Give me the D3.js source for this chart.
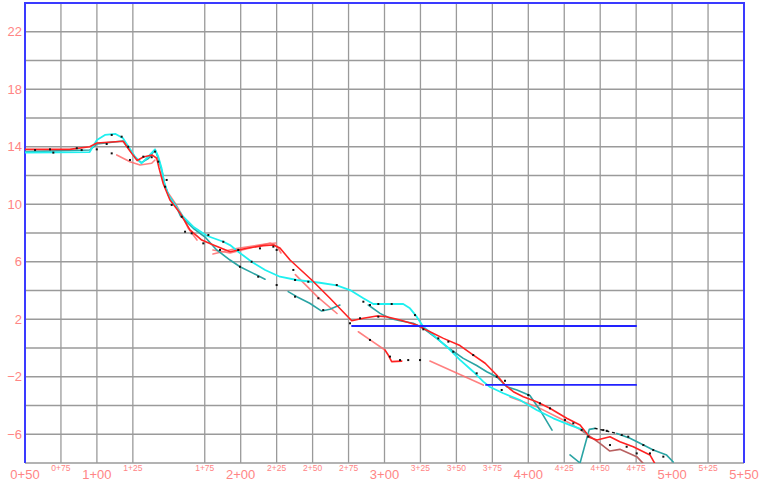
<!DOCTYPE html>
<html>
<head>
<meta charset="utf-8">
<script src="https://cdn.jsdelivr.net/npm/d3@7"></script>
<style>
  body { margin: 0; background: #fff; }
  svg { display: block; }
</style>
</head>
<body>
<div id="vis"></div>
<script>
// stations (ft) and elevations
var stationTicks = d3.range(50, 551, 25).filter(function (v) { return v !== 150; });
var majorStations = [50, 100, 200, 300, 400, 500, 550];
var elevTicks = d3.range(-8, 23, 2);
var elevLabels = [22, 18, 14, 10, 6, 2, -2, -6];

var redMain = [[50,13.82],[81,13.82],[95,14.0],[100,14.26],[118.4,14.38],[121,13.98],[124.2,13.54],[128,13.04],[132.3,13.29],[138.3,13.43],[141.6,13.2],[143.2,12.52],[146.2,11.41],[150.8,10.3],[157.8,9.39],[164.7,8.22],[172.9,7.51],[181,7.17],[192.6,6.7],[204.2,6.94],[215.7,7.12],[222.7,7.17],[227.3,6.96],[234.3,6.12],[249.4,4.73],[262.1,3.46],[277.2,1.9],[285.3,2.07],[294.6,2.23],[301.5,2.18],[310.8,1.95],[322.4,1.6],[331.6,1.13],[341,0.67],[352.5,0.17],[361.8,-0.49],[370,-1.06],[378,-1.88],[383.8,-2.57],[389.6,-3.04],[396.5,-3.39],[405.8,-3.74],[415,-4.19],[426.7,-4.89],[436,-5.36],[442.8,-6.23],[447.8,-6.4],[456.8,-6.17],[463.7,-6.52],[473,-6.87],[484.6,-7.44],[489.5,-8.3]];
var redShort = [[300.3,-0.14],[302.6,-0.49],[305,-0.95],[312,-0.91]];

var cyanLine = [[50,13.6],[95,13.63],[100,14.47],[105.6,14.82],[113,14.89],[118,14.61],[122,14.0],[126.5,13.31],[131,12.85],[135.7,13.31],[140.4,13.82],[142.7,13.31],[145,12.5],[146.7,11.57],[149.7,10.64],[154.3,9.95],[160,9.13],[167,8.44],[176.4,7.81],[188,7.39],[192.6,7.16],[198.3,6.7],[207.6,6.0],[217,5.43],[227.3,4.96],[239,4.73],[255,4.54],[266.8,4.35],[276,4.03],[285.3,3.46],[292.2,3.06],[313,3.06],[317.7,2.76],[322.4,2.18],[327,1.48],[334,0.9],[343.3,0.09],[352.5,-0.83],[361.8,-1.65],[368.7,-2.34],[373.4,-2.71],[382.6,-3.15],[394.2,-3.62],[405.8,-4.31],[417.4,-4.89],[429,-5.36],[438.2,-5.7],[441.5,-6.05]];

var teal1 = [[50,13.66],[95,13.77],[100,14.2],[118,14.4],[122,13.9],[127,13.2],[131,12.9],[136,13.2],[140.5,13.8],[143,13.1],[145.5,12.2],[147,11.4],[150,10.6],[155,9.9],[158,9.2],[167,8.33],[175.2,7.72],[183.3,6.82],[192.6,6.12],[199.5,5.65],[208.8,5.19],[216.9,4.78]];
var teal2 = [[233,3.92],[239,3.57],[248,3.11],[256.3,2.57],[262,2.69],[269,2.99]];
var teal3 = [[288.7,2.99],[296.9,2.41],[303.8,2.06],[310.8,1.9],[320,1.72],[327,1.37],[336.3,0.67],[345.5,-0.07],[354.8,-0.72],[364.1,-1.22],[371.1,-1.65],[378,-2.0],[385,-2.69],[392.1,-2.92],[401.1,-3.31],[408.1,-4.31],[416.5,-5.71]];
var teal4 = [[429,-7.44],[436,-8.0],[439.4,-6.75],[442.4,-5.66],[446.4,-5.59]];
var teal5 = [[461.6,-5.94],[470.7,-6.28],[477.7,-6.63],[486.9,-7.1],[496.2,-7.45],[500.8,-7.93]];
var blackDash = [[446.4,-5.59],[461.6,-5.94]];

var salmon1 = [[113.8,13.43],[123,12.96],[130,12.73],[138.1,12.85],[140.4,13.08]];
var salmon2 = [[149.7,10.76],[154.3,10.09],[159.2,9.25],[163.4,8.35],[169.6,7.51]];
var salmon3 = [[180.7,6.82],[192.6,6.61],[206.5,6.96],[220.4,7.3],[225.2,7.09],[228,6.61]];
var salmon4 = [[180.7,6.54],[196,6.9],[214.8,7.2],[224.5,7.3]];
var salmon5 = [[238,5.1],[254,3.5],[267,2.4]];
var salmon6 = [[281.8,1.13],[290,0.56],[300.3,-0.14]];
var salmon7 = [[331.6,-0.91],[368.7,-2.58]];
var salmon8 = [[387.3,-3.41],[405.8,-4.08],[419.7,-4.78],[429,-5.24],[438.2,-5.82]];
var maroon1 = [[438.2,-5.82],[449.8,-6.63],[456.7,-7.17],[463.7,-7.05],[475.4,-7.56],[481.1,-8.15]];

var blueLevels = [[[277.4,1.53],[475,1.53]], [[370.6,-2.57],[475,-2.57]]];

var shots = [[57,13.77],[67.4,13.82],[69.7,13.59],[86,13.9],[89.4,13.77],[99.9,13.82],[106.8,14.19],[110.3,13.54],[110.3,14.82],[117.2,14.7],[121.8,14.0],[123,13.08],[132.3,13.31],[138.1,13.27],[140.4,13.66],[142.7,12.96],[148.5,11.69],[147.4,11.22],[152,9.95],[159,9.13],[165.9,7.98],[161.3,8.09],[174,7.28],[177.5,7.86],[185.6,6.82],[187.9,7.39],[198.3,6.82],[199.5,5.65],[207.6,6.0],[212.2,4.96],[213.4,6.93],[222.7,7.05],[225,6.82],[225,4.38],[236.6,5.43],[237.8,4.73],[237.8,3.57],[247,4.61],[254,3.46],[257.4,2.64],[266.8,4.38],[276,1.72],[283,2.07],[285.3,3.22],[289.9,2.99],[295.7,2.18],[289.9,0.56],[295.7,3.06],[305,3.06],[303.8,-0.6],[310.8,-0.84],[316.5,-0.84],[324.7,-0.84],[321.2,2.29],[327,1.3],[337.4,0.67],[344.4,0.44],[347.8,-0.26],[361.7,-0.49],[364.1,-1.76],[378,-2.0],[383.8,-2.28],[381.5,-2.92],[400,-3.27],[408.1,-3.85],[415.1,-4.2],[425.5,-5.01],[431.3,-5.24],[437.1,-5.71],[441.7,-6.17],[452.2,-5.71],[454.5,-5.76],[465,-6.05],[469.5,-6.17],[480,-6.75],[486.9,-7.1],[493.9,-7.56],[456.8,-6.75],[468.4,-6.87],[475.4,-7.33],[484.6,-7.33]];

var W = 760, H = 489;
var x = d3.scaleLinear().domain([50, 550]).range([25, 744]);
var y = d3.scaleLinear().domain([-8, 24]).range([463, 3]);

function stationText(v) {
    var r = v % 100;
    return Math.floor(v / 100) + "+" + (r < 10 ? "0" + r : r);
}

var svg = d3.select("#vis").append("svg")
    .attr("width", W)
    .attr("height", H);

svg.append("rect").attr("width", W).attr("height", H).attr("fill", "#fff");

svg.append("defs").append("clipPath").attr("id", "plot")
    .append("rect")
    .attr("x", x(50)).attr("y", y(24))
    .attr("width", x(550) - x(50)).attr("height", y(-8) - y(24));

// grid
var grid = svg.append("g").attr("stroke", "#9a9a9a").attr("stroke-width", 1.3);
grid.selectAll("line.v").data(stationTicks).enter().append("line")
    .attr("x1", function (d) { return x(d); }).attr("x2", function (d) { return x(d); })
    .attr("y1", y(24)).attr("y2", y(-8));
grid.selectAll("line.h").data(elevTicks).enter().append("line")
    .attr("x1", x(50)).attr("x2", x(550))
    .attr("y1", function (d) { return y(d); }).attr("y2", function (d) { return y(d); });

// blue frame (left, top, right)
svg.append("path")
    .attr("d", "M" + x(50) + "," + y(-8) + "V" + y(24) + "H" + x(550) + "V" + y(-8))
    .attr("fill", "none").attr("stroke", "#3a3aff").attr("stroke-width", 2);

// tick labels
var lbl = svg.append("g").attr("fill", "#ff8585").attr("font-family", "'Liberation Sans', Arial, sans-serif");
lbl.selectAll("text.s").data(stationTicks.filter(function (d) { return d !== 50 || true; })).enter().append("text")
    .attr("x", function (d) { return x(d); })
    .attr("y", function (d) { return majorStations.indexOf(d) >= 0 ? 479 : 471; })
    .attr("text-anchor", "middle")
    .attr("font-size", function (d) { return majorStations.indexOf(d) >= 0 ? "13px" : "8.5px"; })
    .text(stationText);
lbl.selectAll("text.e").data(elevLabels).enter().append("text")
    .attr("x", 22)
    .attr("y", function (d) { return y(d) + 4.5; })
    .attr("text-anchor", "end")
    .attr("font-size", "13px")
    .text(function (d) { return d < 0 ? "\u2212" + Math.abs(d) : d; });

// profile lines
var line = d3.line().x(function (d) { return x(d[0]); }).y(function (d) { return y(d[1]); });
var plot = svg.append("g").attr("clip-path", "url(#plot)").attr("fill", "none")
    .attr("stroke-linejoin", "round").attr("stroke-linecap", "round");

function draw(data, color, width, opacity) {
    plot.append("path").datum(data).attr("d", line)
        .attr("stroke", color).attr("stroke-width", width)
        .attr("stroke-opacity", opacity || 1);
}

[salmon1, salmon2, salmon3, salmon4, salmon5, salmon6, salmon7, salmon8].forEach(function (s) {
    draw(s, "#ff6a6a", 1.6, 0.85);
});
draw(maroon1, "#b86060", 1.6);
[teal1, teal2, teal3, teal4, teal5].forEach(function (s) { draw(s, "#2aa4a4", 1.6); });
draw(cyanLine, "#1ff0f0", 1.8);
draw(redMain, "#ff2222", 1.6);
draw(redShort, "#ff2222", 1.6);

plot.append("path").datum(blackDash).attr("d", line)
    .attr("stroke", "#111").attr("stroke-width", 1.4).attr("stroke-dasharray", "2,4");

blueLevels.forEach(function (s) { draw(s, "#2222ff", 1.8); });

// survey shots
plot.selectAll("rect.shot").data(shots).enter().append("rect")
    .attr("x", function (d) { return x(d[0]) - 1; })
    .attr("y", function (d) { return y(d[1]) - 1; })
    .attr("width", 2).attr("height", 2)
    .attr("fill", "#111");
</script>
</body>
</html>
